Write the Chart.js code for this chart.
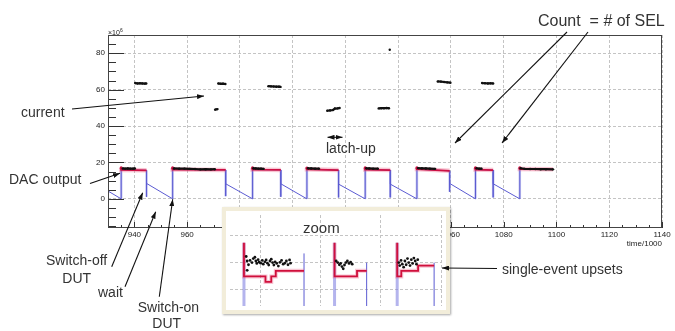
<!DOCTYPE html>
<html><head><meta charset="utf-8">
<script src="https://cdn.jsdelivr.net/npm/chart.js@4.4.1/dist/chart.umd.min.js"></script>
<style>
html,body{margin:0;padding:0;background:#fff;}
#wrap{position:relative;width:675px;height:331px;overflow:hidden;}
#main{position:absolute;left:0;top:0;}
#inset{position:absolute;left:222px;top:207px;width:220px;height:99px;border:4.5px solid #f2edda;box-shadow:1px 1px 2px rgba(0,0,0,0.35);background:#fff;}
#insetCanvas{position:absolute;left:0;top:0;}
#ann{position:absolute;left:0;top:0;}
</style></head>
<body>
<div id="wrap">
<canvas id="main" width="675" height="331"></canvas>
<div id="inset"><canvas id="insetCanvas" width="220" height="99"></canvas></div>
<svg id="ann" width="675" height="331" xmlns="http://www.w3.org/2000/svg">
<defs><marker id="ah" viewBox="0 0 14 10" refX="14" refY="5" markerUnits="userSpaceOnUse" markerWidth="7" markerHeight="5" orient="auto-start-reverse"><path d="M0,0L14,5L0,10z" fill="#111"/></marker></defs>
<g stroke="#111" stroke-width="1.1" fill="none">
<line x1="72" y1="109" x2="204" y2="96" marker-end="url(#ah)"/>
<line x1="567" y1="32" x2="455" y2="143" marker-end="url(#ah)"/>
<line x1="588" y1="32" x2="502" y2="143" marker-end="url(#ah)"/>
<line x1="90" y1="183.5" x2="120" y2="173.3" marker-end="url(#ah)"/>
<line x1="111.7" y1="266.7" x2="142.7" y2="192.7" marker-end="url(#ah)"/>
<line x1="125" y1="286.7" x2="155.7" y2="211.7" marker-end="url(#ah)"/>
<line x1="159.3" y1="296.7" x2="172.7" y2="199.3" marker-end="url(#ah)"/>
<line x1="327.5" y1="137.3" x2="342.5" y2="137.3" marker-start="url(#ah)" marker-end="url(#ah)"/>
<line x1="497" y1="268.5" x2="442" y2="268" marker-end="url(#ah)"/>
</g>
<g font-family="'Liberation Sans', Arial, sans-serif" fill="#333" font-size="14">
<text x="538" y="26" font-size="16" xml:space="preserve">Count  = # of SEL</text>
<text x="21" y="117">current</text>
<text x="326" y="153">latch-up</text>
<text x="9" y="184">DAC output</text>
<text x="46" y="265">Switch-off</text>
<text x="76.7" y="282.7" text-anchor="middle">DUT</text>
<text x="98" y="297">wait</text>
<text x="137.7" y="311.5">Switch-on</text>
<text x="166.7" y="328" text-anchor="middle">DUT</text>
<text x="303" y="232.5" font-size="15">zoom</text>
<text x="502" y="274">single-event upsets</text>
<text x="108" y="34.5" font-size="7" fill="#222">×10<tspan dy="-3" font-size="5">6</tspan></text>
</g>
</svg>
</div>
<script>
// ---- axis tick labels ----
const xTicks = [940, 960, 980, 1000, 1020, 1040, 1060, 1080, 1100, 1120, 1140];
const yTicks = [0, 20, 40, 60, 80];

// ---- DAC output (switch-on / switch-off cycles) ----
const dacOn    = [935.0, 954.5, 984.8, 1005.4, 1027.5, 1047.1, 1069.3, 1086.1];
const dacOff   = [944.6, 974.6, 995.5, 1017.4, 1037.0, 1059.5, 1076.0, 1098.7];
const dacPeak  = [17.0, 17.0, 17.0, 16.9, 17.0, 17.0, 17.0, 17.0];
const dacStart = [15.9, 16.1, 16.1, 16.2, 16.1, 16.3, 16.1, 16.4];
const dacEnd   = [15.7, 15.9, 15.9, 15.8, 15.8, 15.4, 15.8, 16.2];
const offBottom = [1.1, 1.5, 1.1, 0.8, 0.8, 3.9, 0.8];
const rampStart = [8.5, 8.3, 8.3, 8.1, 8.1, 8.5, 8.3];
const rampFirstX = 930.0, rampFirstY = 4.3;

// ---- current (x10^6) ----
const curX = [
 935.6,936.5,937.5,938.5,939.5,940.2,null,
 940.3,941.2,942.1,943.0,943.9,944.5,null,
 955.0,957.0,959.0,961.0,963.0,965.0,967.0,969.0,970.5,null,
 970.6,971.5,null,
 971.8,972.7,973.6,974.5,null,
 985.1,986.0,987.0,988.0,989.0,null,
 990.8,991.8,992.8,993.8,994.8,995.4,null,
 1005.8,1007.0,1008.5,1010.0,null,
 1013.1,1014.2,1015.3,1016.0,1017.0,1017.8,null,
 1027.9,1029.0,1030.5,1032.3,null,
 1032.6,1033.6,1034.6,1035.6,1036.5,null,
 1036.8,null,
 1047.5,1049.0,1050.5,1052.0,1054.0,null,
 1055.0,1056.2,1057.4,1058.6,1059.8,null,
 1069.7,1070.7,1071.6,null,
 1071.8,1072.9,1074.0,1075.0,1076.0,null,
 1086.4,1088.0,1090.0,1092.0,1094.0,1096.0,1098.7
];
const curY = [
 16.7,16.6,16.7,16.6,16.6,16.7,null,
 63.6,63.4,63.5,63.4,63.3,63.4,null,
 16.7,16.6,16.6,16.5,16.4,16.2,16.3,16.2,16.3,null,
 49.0,49.3,null,
 63.4,63.2,63.3,63.1,null,
 16.8,16.7,16.6,16.6,16.5,null,
 61.9,61.8,61.7,61.6,61.6,61.5,null,
 16.8,16.7,16.6,16.6,null,
 48.4,48.6,48.8,49.6,49.7,49.9,null,
 16.8,16.7,16.6,16.6,null,
 49.7,49.8,49.8,49.9,49.8,null,
 81.9,null,
 16.9,16.8,16.7,16.6,16.5,null,
 64.5,64.4,64.2,64.0,63.8,null,
 16.8,16.6,16.6,null,
 63.6,63.5,63.4,63.5,63.4,null,
 16.8,16.5,16.4,16.4,16.3,16.3,16.2
];

// ---- zoom inset ----
const insetXTicks = [0, 1, 2, 3];
const insetYTicks = [1, 2, 3];
const insetOnX = [-0.272, 1.232, 2.272];
const insetPeak = [2.745, 2.745, 2.745];
const insetOffX = [0.725, 1.765, 2.885];
const insetOffTop = [2.345, 2.0, 2.0];
const insetRedX = [-0.272,-0.272,0.085,0.085,0.181,0.181,0.256,0.256,0.725,null,
                   1.232,1.232,1.605,1.605,1.765,null,
                   2.272,2.272,2.34,2.34,2.619,2.619,2.885];
const insetRedY = [2.745,1.483,1.483,1.276,1.276,1.483,1.483,1.69,1.69,null,
                   2.745,1.483,1.483,1.69,1.69,null,
                   2.745,1.483,1.483,1.69,1.69,1.883,1.883];
const insetPtX = [-0.235,-0.219,-0.197,-0.219,-0.171,-0.139,-0.117,-0.091,-0.075,-0.059,-0.037,-0.021,0.005,0.032,0.048,0.075,0.096,0.117,0.139,0.160,0.181,0.203,0.224,0.245,0.272,0.299,0.325,0.352,0.379,0.405,0.432,0.459,0.485,0.501,
  1.259,1.285,1.312,1.333,1.355,1.376,1.397,1.419,1.445,1.472,1.499,1.525,
  2.299,2.315,2.336,2.357,2.379,2.400,2.421,2.443,2.464,2.485,2.507,2.528,2.549,2.571,2.592,2.613];
const insetPtY = [2.23,2.06,1.92,1.71,2.08,2.00,2.15,2.20,2.06,1.97,2.11,2.02,1.98,2.08,1.94,2.03,2.10,1.98,1.91,2.06,2.13,2.00,1.91,2.03,1.97,1.87,2.01,2.08,1.94,1.98,2.06,1.92,2.10,1.98,
  2.06,2.00,1.92,1.97,1.85,1.77,1.91,2.00,2.06,1.97,2.02,1.94,
  2.00,1.89,2.08,1.94,1.83,2.06,1.92,2.15,2.00,1.89,2.11,1.97,2.17,2.06,1.94,2.11];

// ---- helpers ----
function toPts(xs, ys){
  let last = xs.find(v => v !== null);
  return xs.map((x, i) => {
    if (x === null || ys[i] === null) return {x: last, y: null};
    last = x; return {x: x, y: ys[i]};
  });
}
const bluePath = [{x: rampFirstX, y: rampFirstY}];
for (let i = 0; i < dacOn.length; i++) {
  bluePath.push({x: dacOn[i], y: 0}, {x: dacOn[i], y: dacPeak[i]}, {x: dacOn[i], y: dacStart[i]}, {x: dacOff[i], y: dacEnd[i]});
  if (i < offBottom.length) bluePath.push({x: dacOff[i], y: offBottom[i]}, {x: dacOff[i], y: rampStart[i]});
}
const vertLight = [];
for (let i = 0; i < dacOn.length; i++) {
  vertLight.push({x: dacOn[i], y: 0}, {x: dacOn[i], y: dacPeak[i]}, {x: dacOn[i], y: null});
  if (i < offBottom.length) vertLight.push({x: dacOff[i], y: dacEnd[i]}, {x: dacOff[i], y: offBottom[i]}, {x: dacOff[i], y: null});
}
const redPath = [];
for (let i = 0; i < dacOn.length; i++) {
  redPath.push({x: dacOn[i], y: dacPeak[i]}, {x: dacOn[i], y: dacStart[i]}, {x: dacOff[i], y: dacEnd[i]}, {x: dacOff[i], y: null});
}

const tickFont = {family: "'Liberation Sans', Arial, sans-serif", size: 8};
const frameTicks = {
  id: 'frameTicks',
  afterDatasetsDraw(chart) {
    const {ctx, chartArea: a, scales: {x, y}} = chart;
    ctx.save();
    ctx.strokeStyle = '#333'; ctx.lineWidth = 1; ctx.beginPath();
    for (let v = Math.ceil(x.min / 5) * 5; v <= x.max; v += 5) {
      const p = Math.round(x.getPixelForValue(v)) + 0.5, L = (v % 20 === 0) ? 6 : 3;
      ctx.moveTo(p, a.bottom); ctx.lineTo(p, a.bottom - L);
    }
    for (let v = Math.ceil(y.min / 5) * 5; v <= y.max; v += 5) {
      const p = Math.round(y.getPixelForValue(v)) + 0.5, L = (v % 20 === 0) ? 16 : 8;
      ctx.moveTo(a.left, p); ctx.lineTo(a.left + L, p);
    }
    ctx.stroke();
    ctx.strokeStyle = '#444';
    ctx.strokeRect(a.left + 0.5, a.top + 0.5, a.right - a.left - 1, a.bottom - a.top - 1);
    ctx.restore();
  }
};

new Chart(document.getElementById('main'), {
  type: 'line',
  data: { datasets: [
    {label: 'current', data: toPts(curX, curY), borderColor: '#111', backgroundColor: '#111', borderWidth: 2.2, pointRadius: 1.2, pointBorderWidth: 0, spanGaps: false, order: 0},
    {label: 'DAC', data: redPath, borderColor: '#cc1144', backgroundColor: '#cc1144', borderWidth: 1.8, pointRadius: c => (c.dataIndex % 4 === 0 ? 1.6 : 0), pointBorderWidth: 0, spanGaps: false, order: 1},
    {label: 'DAChalo', data: redPath, borderColor: 'rgba(235,90,130,0.35)', borderWidth: 4.5, pointRadius: 0, spanGaps: false, order: 2},
    {label: 'switch', data: bluePath, borderColor: '#5b5bd2', borderWidth: 1, pointRadius: 0, order: 3},
    {label: 'switchLight', data: vertLight, borderColor: 'rgba(140,140,225,0.5)', borderWidth: 2.5, pointRadius: 0, spanGaps: false, order: 4}
  ]},
  options: {
    responsive: false, animation: false, events: [],
    layout: {padding: {top: 35, right: 13, left: 0, bottom: 0}},
    plugins: {legend: {display: false}, tooltip: {enabled: false}},
    scales: {
      x: {type: 'linear', min: 930, max: 1140,
        afterBuildTicks: s => { s.ticks = xTicks.map(v => ({value: v})); },
        afterFit: s => { s.height = 103; },
        ticks: {autoSkip: false, maxRotation: 0, padding: 2, font: tickFont, color: '#222', callback: v => String(v)},
        grid: {color: '#c4c4c4', drawTicks: false, lineWidth: 1},
        border: {display: false, dash: [3, 2]},
        title: {display: true, text: 'time/1000', align: 'end', color: '#222', font: {family: "'Liberation Sans', Arial, sans-serif", size: 8}, padding: {top: 0, bottom: 82}}
      },
      y: {type: 'linear', min: -16, max: 90,
        afterBuildTicks: s => { s.ticks = yTicks.map(v => ({value: v})); },
        afterFit: s => { s.width = 108; },
        ticks: {padding: 3, font: tickFont, color: '#222', callback: v => String(v)},
        grid: {color: '#c4c4c4', drawTicks: false, lineWidth: 1},
        border: {display: false, dash: [3, 2]}
      }
    }
  },
  plugins: [frameTicks]
});

// ---- inset ----
const inOn = [], inOff = [];
for (let i = 0; i < insetOnX.length; i++) {
  inOn.push({x: insetOnX[i], y: 0}, {x: insetOnX[i], y: insetPeak[i]}, {x: insetOnX[i], y: null});
  inOff.push({x: insetOffX[i], y: 0}, {x: insetOffX[i], y: insetOffTop[i]}, {x: insetOffX[i], y: null});
}
new Chart(document.getElementById('insetCanvas'), {
  type: 'line',
  data: { datasets: [
    {data: toPts(insetPtX, insetPtY), showLine: false, pointRadius: 1.4, pointBorderWidth: 0, backgroundColor: '#111', order: 0},
    {data: toPts(insetRedX, insetRedY), borderColor: '#d0103c', borderWidth: 1.8, pointRadius: 0, spanGaps: false, order: 1},
    {data: toPts(insetRedX, insetRedY), borderColor: 'rgba(235,90,130,0.35)', borderWidth: 4, pointRadius: 0, spanGaps: false, order: 2},
    {data: inOff, borderColor: '#5b5bd2', borderWidth: 1, pointRadius: 0, spanGaps: false, order: 3},
    {data: inOn, borderColor: 'rgba(130,130,225,0.6)', borderWidth: 3, pointRadius: 0, spanGaps: false, order: 4}
  ]},
  options: {
    responsive: false, animation: false, events: [],
    layout: {padding: 0},
    plugins: {legend: {display: false}, tooltip: {enabled: false}},
    scales: {
      x: {type: 'linear', min: -0.504, max: 3.016,
        afterBuildTicks: s => { s.ticks = insetXTicks.map(v => ({value: v})); },
        afterFit: s => { s.height = 0; },
        ticks: {display: false}, grid: {color: '#c4c4c4', drawTicks: false}, border: {display: false, dash: [3, 2]}},
      y: {type: 'linear', min: 0.372, max: 3.786,
        afterBuildTicks: s => { s.ticks = insetYTicks.map(v => ({value: v})); },
        afterFit: s => { s.width = 0; },
        ticks: {display: false}, grid: {color: '#c4c4c4', drawTicks: false}, border: {display: false, dash: [3, 2]}}
    }
  }
});
</script>
</body></html>
